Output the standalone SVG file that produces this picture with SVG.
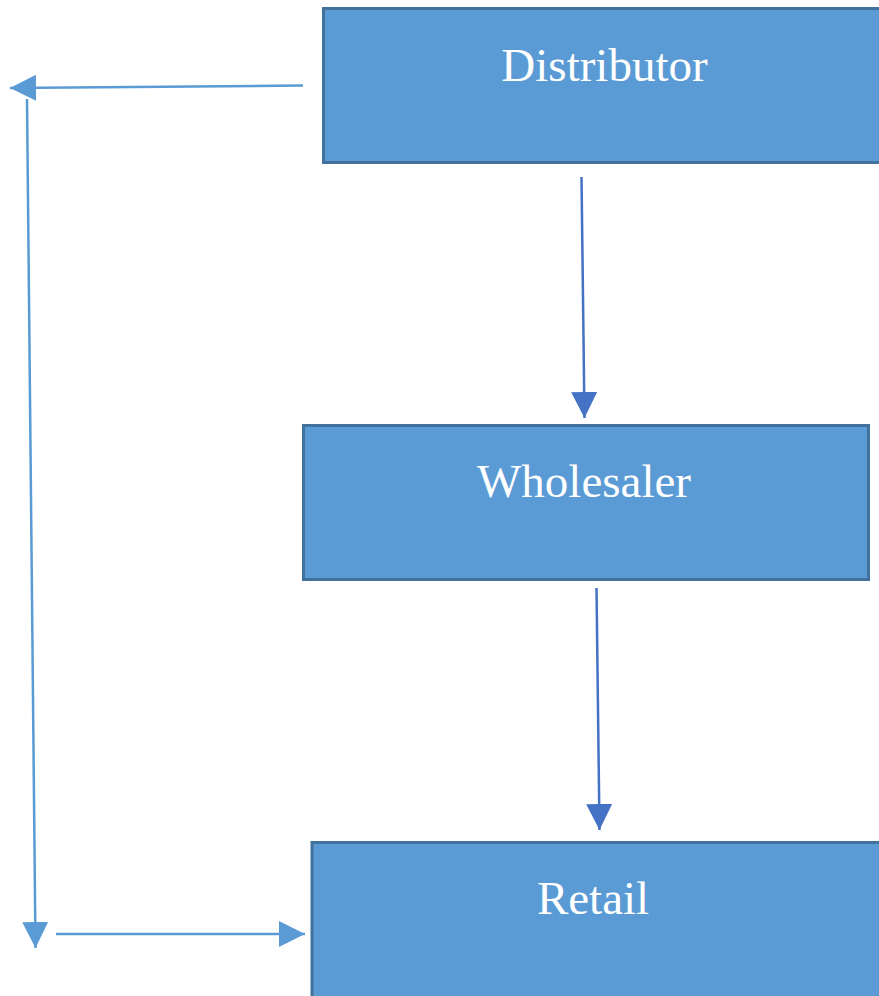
<svg xmlns="http://www.w3.org/2000/svg" width="879" height="996" viewBox="0 0 879 996">
  <style>
    .box { fill: #5B9BD5; stroke: #41719C; stroke-width: 3; }
    .label { font-family: "Liberation Serif", "Times New Roman", serif; font-size: 47px; fill: #FFFFFF; text-anchor: middle; }
    .light { stroke: #5B9BD5; stroke-width: 2.5; fill: none; }
    .dark { stroke: #4472C4; stroke-width: 2.5; fill: none; }
  </style>
  <defs>
    <marker id="arrLight" markerUnits="userSpaceOnUse" markerWidth="26" markerHeight="26" viewBox="0 0 24 24" refX="24" refY="12" orient="auto">
      <path d="M0,0 L24,12 L0,24 Z" fill="#5B9BD5"/>
    </marker>
    <marker id="arrDark" markerUnits="userSpaceOnUse" markerWidth="26" markerHeight="26" viewBox="0 0 24 24" refX="24" refY="12" orient="auto">
      <path d="M0,0 L24,12 L0,24 Z" fill="#4472C4"/>
    </marker>
  </defs>
  <rect width="879" height="996" fill="#FFFFFF"/>
  <g id="connectors">
    <line class="light" x1="303" y1="85.5" x2="10" y2="88" marker-end="url(#arrLight)"/>
    <line class="light" x1="27" y1="99" x2="35.5" y2="948" marker-end="url(#arrLight)"/>
    <line class="light" x1="56" y1="934" x2="305" y2="934" marker-end="url(#arrLight)"/>
    <line class="dark" x1="581.5" y1="177" x2="584.5" y2="418" marker-end="url(#arrDark)"/>
    <line class="dark" x1="596.5" y1="588" x2="599.5" y2="830" marker-end="url(#arrDark)"/>
  </g>
  <g id="distributor">
    <rect class="box" x="323.5" y="8.5" width="600" height="154"/>
    <text class="label" x="604.5" y="81">Distributor</text>
  </g>
  <g id="wholesaler">
    <rect class="box" x="303.5" y="425.5" width="565" height="154"/>
    <text class="label" x="584" y="497">Wholesaler</text>
  </g>
  <g id="retail">
    <rect class="box" x="312" y="842.5" width="600" height="200"/>
    <text class="label" x="593" y="914">Retail</text>
  </g>
</svg>
